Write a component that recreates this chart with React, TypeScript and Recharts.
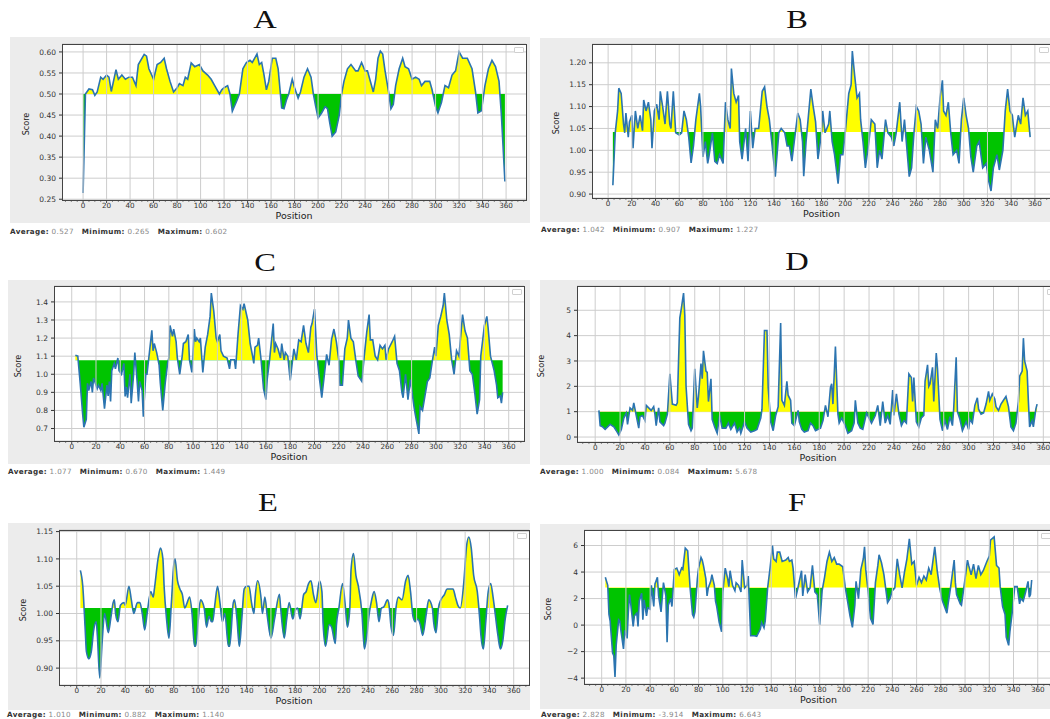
import React from 'react';
import { AreaChart, Area, XAxis, YAxis, CartesianGrid, ReferenceLine } from 'recharts';

// [position, score]
const aProfile: [number, number][] = [
  [0, 0.265], [2, 0.5], [5, 0.512], [8, 0.51], [10, 0.497], [12, 0.505], [15, 0.54], [17, 0.535], [20, 0.545], [22, 0.54],
  [24, 0.506], [28, 0.558], [30, 0.535], [33, 0.545], [36, 0.535], [39, 0.54], [42, 0.54], [45, 0.52], [47, 0.57], [52, 0.594],
  [54, 0.59], [56, 0.56], [60, 0.535], [63, 0.57], [66, 0.575], [69, 0.585], [71, 0.56], [74, 0.53], [77, 0.505], [80, 0.515],
  [82, 0.525], [85, 0.52], [87, 0.54], [89, 0.535], [92, 0.574], [95, 0.565], [99, 0.57], [102, 0.555], [106, 0.545], [109, 0.535],
  [112, 0.52], [116, 0.5], [118, 0.51], [120, 0.515], [123, 0.52], [125, 0.5], [127, 0.459], [131, 0.485], [133, 0.5], [136, 0.56],
  [139, 0.575], [142, 0.58], [144, 0.575], [148, 0.595], [150, 0.57], [152, 0.575], [154, 0.545], [156, 0.51], [158, 0.53], [161, 0.585],
  [164, 0.585], [166, 0.56], [169, 0.467], [171, 0.465], [173, 0.485], [175, 0.5], [178, 0.535], [180, 0.515], [183, 0.49], [185, 0.505],
  [188, 0.54], [191, 0.56], [194, 0.54], [196, 0.5], [198, 0.47], [200, 0.443], [203, 0.455], [206, 0.47], [208, 0.465], [210, 0.43],
  [212, 0.4], [215, 0.41], [218, 0.45], [220, 0.5], [222, 0.53], [225, 0.56], [228, 0.57], [232, 0.555], [234, 0.555], [237, 0.575],
  [240, 0.555], [242, 0.555], [245, 0.525], [247, 0.505], [249, 0.535], [251, 0.585], [253, 0.602], [255, 0.595], [257, 0.555], [260, 0.505],
  [262, 0.465], [264, 0.475], [266, 0.52], [269, 0.56], [272, 0.585], [274, 0.565], [277, 0.56], [280, 0.535], [283, 0.54], [286, 0.535],
  [288, 0.52], [291, 0.53], [295, 0.53], [297, 0.51], [300, 0.47], [302, 0.455], [305, 0.48], [308, 0.52], [311, 0.515], [314, 0.545],
  [317, 0.555], [320, 0.6], [323, 0.585], [327, 0.585], [331, 0.56], [334, 0.505], [336, 0.455], [339, 0.46], [342, 0.52], [345, 0.56],
  [348, 0.58], [351, 0.565], [354, 0.53], [356, 0.45], [359, 0.292],
];

const bProfile: [number, number][] = [
  [4, 0.92], [6, 1.04], [8, 1.09], [9, 1.142], [11, 1.13], [13, 1.06], [14, 1.04], [15, 1.085], [17, 1.03], [18, 1.065],
  [20, 1.08], [21, 1.005], [23, 1.09], [25, 1.05], [27, 1.08], [29, 1.045], [30, 1.115], [32, 1.09], [34, 1.11], [36, 1.07],
  [37, 1.005], [39, 1.09], [41, 1.105], [43, 1.07], [44, 1.135], [46, 1.1], [48, 1.06], [50, 1.135], [52, 1.06], [53, 1.05],
  [55, 1.135], [57, 1.04], [60, 1.035], [62, 1.04], [64, 1.09], [66, 1.07], [68, 1.03], [70, 0.971], [72, 1.01], [74, 1.07],
  [77, 1.13], [78, 1.1], [80, 0.985], [82, 1.02], [84, 0.97], [85, 0.985], [88, 1.04], [90, 0.975], [92, 0.97], [94, 0.99],
  [97, 0.97], [99, 1.11], [101, 1.07], [103, 1.05], [104, 1.187], [106, 1.13], [108, 1.11], [110, 1.125], [111, 1.02], [113, 0.98],
  [116, 1.05], [118, 0.975], [120, 1.09], [122, 1.005], [124, 1.05], [127, 1.05], [130, 1.135], [132, 1.145], [134, 1.1], [136, 1.07],
  [138, 1.02], [141, 0.94], [144, 1.04], [146, 1.05], [149, 1.04], [151, 1.01], [153, 1.01], [155, 0.975], [157, 1.02], [160, 1.085],
  [162, 1.07], [164, 1.02], [165, 0.941], [167, 1.02], [169, 1.08], [171, 1.14], [173, 1.1], [175, 1.065], [177, 0.98], [180, 1.04],
  [181, 1.09], [183, 1.04], [186, 1.06], [187, 1.09], [189, 1.02], [191, 0.99], [194, 0.924], [196, 0.99], [198, 0.99], [200, 1.04],
  [203, 1.13], [205, 1.15], [206, 1.227], [208, 1.17], [210, 1.12], [212, 1.13], [213, 1.07], [215, 1.02], [217, 0.96], [220, 1.02],
  [222, 1.07], [225, 1.06], [227, 0.96], [229, 1.0], [231, 0.98], [234, 1.07], [236, 1.04], [239, 1.03], [241, 1.01], [243, 1.04],
  [246, 1.11], [248, 1.02], [250, 1.07], [254, 0.94], [256, 0.96], [258, 1.04], [260, 1.1], [262, 1.09], [264, 1.06], [266, 0.97],
  [268, 1.03], [271, 1.0], [274, 0.95], [276, 1.07], [278, 1.05], [280, 1.12], [282, 1.16], [283, 1.09], [285, 1.08], [287, 1.11],
  [289, 1.04], [291, 0.99], [294, 1.0], [296, 0.97], [298, 1.07], [300, 1.12], [302, 1.08], [304, 1.05], [306, 0.985], [308, 0.95],
  [311, 1.01], [313, 1.02], [316, 0.96], [319, 0.97], [321, 0.93], [323, 0.907], [325, 0.96], [328, 0.99], [330, 0.955], [333, 1.0],
  [335, 1.09], [337, 1.14], [339, 1.09], [341, 1.08], [343, 1.03], [346, 1.08], [348, 1.06], [350, 1.12], [352, 1.08], [354, 1.09],
  [356, 1.03],
];

const cProfile: [number, number][] = [
  [3, 1.105], [5, 1.1], [7, 0.95], [9, 0.78], [10, 0.707], [12, 0.75], [13, 0.95], [14, 0.91], [16, 0.96], [17, 0.9],
  [18, 0.98], [21, 0.92], [22, 0.94], [24, 0.91], [25, 0.95], [27, 0.81], [29, 0.94], [30, 0.88], [31, 0.96], [32, 0.85],
  [33, 1.02], [35, 1.06], [36, 1.03], [38, 1.09], [39, 1.02], [41, 1.0], [43, 1.06], [44, 0.877], [45, 0.93], [46, 0.87],
  [48, 1.0], [49, 0.84], [51, 1.0], [52, 1.12], [54, 0.95], [55, 0.85], [56, 0.96], [58, 0.91], [59, 0.766], [61, 1.0],
  [62, 1.0], [64, 1.12], [66, 1.243], [67, 1.13], [68, 1.17], [70, 1.12], [72, 1.05], [73, 0.95], [75, 0.8], [77, 0.95],
  [79, 1.06], [80, 1.09], [81, 1.27], [83, 1.21], [84, 1.25], [86, 1.18], [87, 1.09], [89, 1.0], [91, 1.1], [92, 1.17],
  [94, 1.18], [96, 1.22], [97, 1.08], [99, 1.01], [101, 1.25], [102, 1.18], [103, 1.2], [105, 1.18], [106, 1.2], [108, 1.01],
  [110, 1.15], [112, 1.22], [114, 1.32], [115, 1.449], [117, 1.35], [119, 1.2], [120, 1.18], [122, 1.22], [123, 1.13], [125, 1.1],
  [128, 1.09], [130, 1.03], [131, 1.08], [134, 1.08], [135, 1.03], [137, 1.22], [139, 1.38], [141, 1.36], [142, 1.39], [145, 1.3],
  [147, 1.17], [149, 1.1], [150, 1.06], [151, 1.15], [153, 1.16], [154, 1.2], [156, 1.08], [158, 0.92], [160, 0.86], [161, 0.97],
  [163, 1.08], [166, 1.28], [167, 1.12], [168, 1.17], [170, 1.14], [172, 1.09], [173, 1.17], [175, 1.08], [176, 1.12], [178, 1.1],
  [180, 0.966], [183, 1.14], [185, 1.08], [187, 1.19], [189, 1.18], [191, 1.27], [193, 1.17], [195, 1.12], [197, 1.26], [198, 1.28],
  [200, 1.36], [202, 1.1], [204, 0.98], [206, 0.87], [208, 0.99], [210, 1.11], [212, 1.05], [214, 1.19], [216, 1.25], [218, 1.18],
  [220, 1.08], [221, 0.94], [223, 0.94], [225, 1.14], [227, 1.2], [228, 1.3], [230, 1.2], [232, 1.18], [234, 1.08], [236, 0.99],
  [239, 0.96], [241, 1.1], [243, 1.23], [245, 1.33], [246, 1.19], [248, 1.19], [250, 1.1], [252, 1.08], [254, 1.16], [256, 1.14],
  [258, 1.16], [259, 1.08], [261, 1.14], [264, 1.18], [266, 1.21], [268, 1.06], [270, 1.02], [272, 0.9], [273, 0.87], [275, 1.0],
  [277, 0.86], [279, 0.97], [282, 0.82], [283, 0.78], [286, 0.67], [287, 0.82], [289, 0.8], [291, 0.88], [293, 0.96], [295, 0.98],
  [297, 1.07], [299, 1.15], [300, 1.1], [302, 1.27], [304, 1.32], [306, 1.38], [307, 1.449], [309, 1.3], [311, 1.22], [313, 1.08],
  [315, 1.0], [317, 1.13], [319, 1.1], [322, 1.33], [324, 1.24], [326, 1.2], [328, 1.02], [330, 1.0], [332, 0.9], [334, 0.78],
  [336, 0.86], [337, 1.1], [340, 1.27], [342, 1.32], [343, 1.26], [345, 1.1], [348, 1.02], [350, 0.94], [351, 0.87], [353, 0.88],
  [354, 0.84], [355, 0.9],
];

const dProfile: [number, number][] = [
  [3, 1.05], [4, 0.45], [6, 0.4], [8, 0.3], [10, 0.4], [12, 0.5], [15, 0.4], [17, 0.25], [19, 0.084], [21, 0.3],
  [23, 0.75], [25, 0.95], [26, 0.5], [28, 1.15], [30, 1.05], [31, 1.35], [33, 0.85], [35, 0.35], [36, 0.8], [38, 0.85],
  [40, 0.65], [41, 1.25], [43, 1.15], [45, 1.05], [47, 1.2], [48, 0.9], [49, 0.45], [51, 1.15], [52, 0.6], [55, 0.45],
  [56, 0.55], [58, 0.9], [60, 2.49], [62, 1.3], [65, 1.25], [66, 1.35], [68, 4.7], [69, 5.0], [71, 5.678], [72, 4.8],
  [73, 2.0], [75, 0.5], [77, 0.25], [78, 0.35], [80, 2.69], [82, 1.15], [83, 1.6], [85, 2.9], [86, 2.3], [87, 3.4],
  [89, 2.6], [90, 2.55], [91, 1.4], [93, 2.3], [94, 0.7], [96, 0.4], [98, 0.15], [100, 0.85], [102, 0.35], [105, 0.35],
  [107, 0.55], [109, 0.3], [112, 0.55], [114, 0.2], [116, 0.35], [117, 0.15], [120, 0.6], [122, 0.35], [125, 0.2], [128, 0.25],
  [130, 0.3], [133, 0.75], [134, 1.1], [136, 4.2], [138, 4.2], [139, 1.95], [141, 0.6], [143, 0.25], [145, 0.85], [147, 1.2],
  [149, 4.5], [150, 1.45], [152, 1.25], [154, 2.2], [155, 1.65], [157, 1.45], [158, 0.55], [160, 0.45], [163, 1.05], [164, 0.6],
  [166, 0.3], [168, 0.2], [171, 0.25], [173, 0.55], [175, 0.45], [177, 0.25], [181, 0.35], [183, 0.65], [185, 1.25], [187, 0.8],
  [189, 1.95], [190, 2.1], [191, 1.3], [193, 3.57], [195, 0.9], [196, 0.55], [198, 0.75], [201, 0.45], [203, 0.15], [206, 0.25],
  [208, 0.55], [209, 1.45], [211, 0.55], [213, 0.35], [215, 0.3], [218, 0.95], [220, 0.75], [222, 0.55], [225, 0.85], [227, 1.25],
  [229, 0.45], [231, 1.4], [233, 0.55], [235, 0.85], [237, 0.5], [239, 1.85], [240, 0.85], [242, 1.7], [244, 0.9], [246, 0.45],
  [248, 0.65], [250, 0.55], [252, 2.49], [254, 2.35], [255, 1.4], [256, 2.35], [258, 0.6], [260, 0.4], [262, 0.75], [264, 0.85],
  [265, 2.2], [267, 2.85], [268, 2.0], [269, 2.1], [271, 2.75], [272, 1.4], [274, 3.31], [275, 2.7], [277, 0.7], [279, 0.25],
  [281, 0.65], [283, 0.3], [285, 0.8], [287, 0.45], [288, 1.1], [290, 3.15], [291, 1.0], [293, 0.7], [295, 0.25], [298, 0.6],
  [300, 0.3], [301, 0.7], [303, 0.55], [305, 1.25], [307, 1.55], [308, 1.1], [310, 0.9], [312, 0.95], [314, 1.3], [316, 1.8],
  [317, 1.45], [319, 1.7], [321, 1.5], [322, 1.2], [324, 1.05], [326, 1.3], [328, 1.45], [330, 1.6], [332, 1.2], [334, 0.4],
  [336, 0.25], [338, 0.55], [340, 1.4], [341, 2.4], [343, 2.6], [344, 3.9], [345, 3.0], [347, 2.6], [348, 1.4], [349, 0.4],
  [351, 0.65], [352, 0.4], [354, 1.1], [355, 1.3],
];

const eProfile: [number, number][] = [
  [3, 1.079], [5, 1.05], [7, 0.97], [8, 0.93], [10, 0.917], [12, 0.93], [14, 0.97], [16, 0.985], [17, 0.96], [19, 0.882],
  [21, 0.95], [23, 1.0], [24, 0.99], [26, 0.965], [28, 0.99], [30, 1.02], [31, 1.025], [32, 1.0], [34, 0.985], [36, 1.015],
  [39, 1.02], [40, 1.015], [43, 1.05], [45, 1.025], [47, 1.0], [50, 1.02], [52, 1.02], [54, 1.0], [56, 0.97], [58, 1.0],
  [61, 1.04], [63, 1.03], [64, 1.045], [67, 1.1], [69, 1.12], [71, 1.1], [72, 1.05], [74, 0.99], [76, 0.955], [78, 1.02],
  [80, 1.09], [81, 1.1], [83, 1.06], [85, 1.045], [87, 1.035], [89, 1.01], [91, 1.02], [93, 1.03], [95, 1.0], [97, 0.94],
  [98, 0.94], [100, 0.985], [102, 1.025], [105, 1.01], [107, 0.975], [109, 0.995], [111, 0.985], [112, 0.985], [114, 1.02], [116, 1.05],
  [118, 1.02], [120, 0.985], [122, 1.0], [125, 0.94], [126, 0.94], [129, 1.02], [130, 1.025], [132, 0.99], [134, 0.94], [136, 0.99],
  [138, 1.045], [140, 1.05], [142, 1.05], [144, 1.02], [146, 1.0], [147, 1.03], [149, 1.06], [152, 1.025], [153, 1.0], [155, 1.03],
  [157, 0.995], [160, 0.955], [163, 0.99], [167, 1.035], [168, 1.01], [171, 0.955], [173, 0.99], [175, 1.02], [178, 0.99], [180, 1.005],
  [182, 1.01], [184, 0.99], [187, 1.035], [189, 1.04], [191, 1.055], [193, 1.06], [195, 1.035], [197, 1.02], [200, 1.06], [202, 1.04],
  [203, 0.98], [205, 0.94], [208, 0.98], [210, 0.975], [213, 0.945], [214, 0.98], [216, 1.01], [219, 1.055], [221, 1.02], [223, 0.975],
  [225, 1.01], [226, 1.08], [228, 1.11], [230, 1.07], [232, 1.05], [235, 1.0], [237, 0.935], [239, 0.96], [241, 1.0], [243, 1.025],
  [245, 1.04], [247, 1.02], [249, 0.985], [251, 1.01], [253, 1.012], [256, 1.025], [257, 1.02], [259, 0.975], [261, 0.96], [263, 1.01],
  [265, 1.03], [268, 1.025], [271, 1.06], [273, 1.07], [275, 1.04], [277, 0.995], [279, 0.985], [281, 0.99], [283, 0.98], [285, 0.96],
  [288, 1.0], [290, 1.025], [293, 1.01], [294, 0.985], [296, 0.965], [298, 1.01], [300, 1.025], [303, 1.035], [305, 1.045], [308, 1.045],
  [310, 1.045], [312, 1.03], [314, 1.015], [316, 1.01], [319, 1.06], [321, 1.12], [323, 1.14], [325, 1.12], [327, 1.07], [330, 1.04],
  [332, 0.99], [333, 0.96], [335, 0.935], [337, 0.985], [339, 1.04], [341, 1.055], [343, 1.03], [345, 0.995], [347, 0.96], [349, 0.935],
  [351, 0.95], [353, 0.99], [355, 1.015],
];

const fProfile: [number, number][] = [
  [3, 3.61], [5, 3.0], [6, 0.8], [7, 0.3], [9, -2.1], [10, -2.3], [11, -3.914], [12, -1.5], [14, 0.4], [15, 0.3],
  [16, -0.5], [18, -1.8], [19, -0.4], [21, -1.0], [22, 1.0], [23, 2.3], [24, 1.6], [26, -0.1], [27, 0.7], [29, 0.9],
  [30, -0.1], [31, 1.8], [33, 2.4], [34, 0.4], [35, 1.9], [37, 0.7], [38, 1.3], [40, 1.2], [41, 3.0], [43, 1.4],
  [44, 3.1], [46, 3.6], [47, 2.2], [49, 1.0], [51, 3.2], [53, 2.2], [54, -1.3], [55, 1.5], [57, 2.0], [58, 1.4],
  [60, 4.2], [62, 4.3], [64, 3.8], [66, 4.3], [67, 4.2], [69, 5.8], [71, 5.6], [72, 4.2], [73, 2.8], [75, 0.8],
  [76, 0.6], [77, 1.0], [79, 3.5], [80, 4.3], [82, 5.1], [83, 4.9], [84, 4.5], [86, 3.5], [87, 2.2], [88, 2.8],
  [90, 3.3], [91, 3.8], [93, 3.0], [94, 1.8], [95, 1.4], [97, 0.2], [99, -0.5], [100, 2.5], [102, 4.3], [104, 3.5],
  [105, 2.9], [106, 4.1], [108, 3.0], [110, 2.6], [111, 3.2], [113, 3.0], [115, 2.5], [116, 4.9], [118, 2.8], [120, 3.0],
  [121, 3.7], [123, -0.8], [126, -0.8], [128, -0.85], [131, -0.3], [132, 0.2], [134, -0.2], [135, 0.3], [137, 2.8], [139, 4.3],
  [141, 6.0], [142, 5.0], [144, 4.8], [145, 5.5], [147, 5.5], [149, 4.8], [152, 4.9], [154, 5.1], [155, 4.8], [157, 4.9],
  [158, 4.3], [160, 2.0], [162, 2.8], [165, 4.1], [166, 2.2], [168, 3.8], [170, 2.5], [172, 2.8], [174, 4.5], [176, 2.5],
  [178, 2.3], [180, 0.03], [182, 2.6], [184, 3.6], [186, 4.8], [188, 5.5], [190, 4.8], [192, 5.1], [194, 4.6], [196, 4.6],
  [199, 4.4], [201, 2.9], [203, 1.8], [205, 0.7], [207, -0.17], [209, 1.5], [210, 3.3], [212, 2.0], [214, 4.2], [216, 5.0],
  [217, 5.9], [218, 4.2], [220, 2.5], [222, 0.5], [224, 0.05], [226, 3.2], [228, 4.5], [229, 5.3], [231, 4.7], [233, 3.8],
  [236, 1.7], [238, 2.0], [240, 2.6], [242, 2.8], [244, 5.0], [246, 3.8], [248, 2.8], [250, 4.0], [252, 5.0], [254, 6.5],
  [256, 4.6], [258, 4.8], [260, 3.0], [262, 3.6], [264, 3.2], [266, 3.7], [268, 3.4], [270, 4.3], [272, 3.8], [275, 5.9],
  [277, 4.1], [279, 2.8], [281, 1.9], [283, 1.4], [285, 0.9], [286, 1.6], [288, 2.8], [291, 4.9], [292, 3.2], [293, 2.3],
  [296, 1.6], [297, 1.5], [299, 2.8], [302, 4.9], [303, 4.5], [305, 3.8], [307, 4.6], [309, 3.5], [311, 4.5], [313, 3.8],
  [315, 4.1], [318, 4.8], [320, 5.2], [321, 6.4], [324, 6.643], [326, 4.5], [328, 4.3], [329, 2.9], [331, 1.4], [333, 0.8],
  [334, -0.9], [336, -1.53], [337, -0.5], [339, 1.0], [341, 2.9], [343, 2.9], [345, 1.6], [346, 2.0], [348, 1.8], [350, 2.5],
  [352, 3.3], [353, 2.1], [354, 2.3], [355, 3.4],
];

const aTicks = [0.25, 0.3, 0.35, 0.4, 0.45, 0.5, 0.55, 0.6];
const bTicks = [0.9, 0.95, 1.0, 1.05, 1.1, 1.15, 1.2];
const cTicks = [0.7, 0.8, 0.9, 1.0, 1.1, 1.2, 1.3, 1.4];
const dTicks = [0, 1, 2, 3, 4, 5];
const eTicks = [0.9, 0.95, 1.0, 1.05, 1.1, 1.15];
const fTicks = [-4, -2, 0, 2, 4, 6];
const positionTicks = [0, 20, 40, 60, 80, 100, 120, 140, 160, 180, 200, 220, 240, 260, 280, 300, 320, 340, 360];

// Average / Minimum / Maximum as printed under each panel
const aStats = ['0.527', '0.265', '0.602'];
const bStats = ['1.042', '0.907', '1.227'];
const cStats = ['1.077', '0.670', '1.449'];
const dStats = ['1.000', '0.084', '5.678'];
const eStats = ['1.010', '0.882', '1.140'];
const fStats = ['2.828', '-3.914', '6.643'];

const SANS = '"DejaVu Sans", sans-serif';
const LINE = '#2b74b0';
const YELLOW = '#ffff00';
const GREEN = '#00c400';

type Rect = { x: number; y: number; w: number; h: number };

function pad(lo: number, hi: number): [number, number] {
  const r = hi - lo;
  return [lo - r * 0.05, hi + r * 0.05];
}

const XTick = (props: any) => {
  const { x, y, payload } = props;
  const v = payload.value;
  const major = v % 20 === 0 && v >= 0 && v <= 360;
  return (
    <g>
      <line x1={x} x2={x} y1={y} y2={y + (major ? 3 : 1.8)} stroke="#333" strokeWidth={major ? 0.9 : 0.7} />
      {major && (
        <text x={x} y={y + 3} dy="0.71em" textAnchor="middle" fontSize={7.2} fill="#333" fontFamily={SANS}>
          {v}
        </text>
      )}
    </g>
  );
};

type PanelProps = {
  id: string;
  title: string;
  profile: [number, number][];
  base: number;
  yTicks: number[];
  digits: number;
  stats: string[];
  box: Rect;
  plot: Rect;
  titleAt: [number, number];
  statsAt: [number, number];
  smooth?: boolean;
};

function Panel({ id, title, profile, base, yTicks, digits, stats, box, plot, titleAt, statsAt, smooth }: PanelProps) {
  const data = profile.map(([x, y]) => ({ x, y }));
  const xs = profile.map((p) => p[0]);
  const ys = profile.map((p) => p[1]);
  const xDom = pad(Math.min(...xs), Math.max(...xs));
  const yLo = Math.min(...ys);
  const yHi = Math.max(...ys);
  const yDom = pad(yLo, yHi);
  const top = Math.max(yHi, base);
  const bot = Math.min(yLo, base);
  const off = (top - base) / (top - bot);

  const minor: number[] = [];
  for (let t = Math.ceil(xDom[0] / 5) * 5; t <= xDom[1]; t += 5) minor.push(t);
  const major = positionTicks.filter((t) => t >= xDom[0] && t <= xDom[1]);

  const fmt = (v: number) => (digits > 0 ? v.toFixed(digits) : String(v).replace('-', '\u2212'));
  const yAxisW = 40;
  const padTop = 8;

  return (
    <>
      <div style={{ position: 'absolute', left: box.x, top: box.y, width: box.w, height: box.h, background: '#ececec' }} />
      <div style={{ position: 'absolute', left: plot.x, top: plot.y, width: plot.w, height: plot.h, background: '#fff' }} />
      <div
        style={{
          position: 'absolute', left: titleAt[0], top: titleAt[1], transform: 'translate(-50%, -50%) scaleX(1.25)',
          fontFamily: '"Liberation Serif", serif', fontSize: 26, color: '#111', lineHeight: 1,
        }}
      >
        {title}
      </div>
      <div style={{ position: 'absolute', left: plot.x - yAxisW, top: plot.y - padTop }}>
        <AreaChart
          width={plot.w + yAxisW}
          height={plot.h + 30 + padTop}
          data={data}
          margin={{ top: padTop, right: 0, bottom: 0, left: 0 }}
        >
          <defs>
            <linearGradient id={`split-${id}`} x1="0" y1="0" x2="0" y2="1">
              <stop offset={off} stopColor={YELLOW} />
              <stop offset={off} stopColor={GREEN} />
            </linearGradient>
          </defs>
          <CartesianGrid vertical={false} stroke="#cdcdcd" strokeWidth={1} />
          {major.map((t) => (
            <ReferenceLine key={t} x={t} stroke="#cdcdcd" strokeWidth={1} />
          ))}
          <XAxis
            dataKey="x"
            type="number"
            domain={xDom}
            ticks={minor}
            tick={<XTick />}
            tickLine={false}
            axisLine={false}
            tickSize={0}
            tickMargin={0}
            interval={0}
            height={30}
            allowDataOverflow
          />
          <YAxis
            type="number"
            domain={yDom}
            ticks={yTicks}
            tickFormatter={fmt}
            tick={{ fontSize: 7.5, fill: '#333', fontFamily: SANS }}
            tickLine={{ stroke: '#333' }}
            tickSize={3}
            tickMargin={3}
            axisLine={false}
            interval={0}
            width={yAxisW}
            allowDataOverflow
          />
          <Area
            dataKey="y"
            type={smooth ? 'monotone' : 'linear'}
            baseValue={base}
            stroke={LINE}
            strokeWidth={1.6}
            fill={`url(#split-${id})`}
            fillOpacity={1}
            dot={false}
            activeDot={false}
            isAnimationActive={false}
          />
        </AreaChart>
      </div>
      <div
        style={{
          position: 'absolute', left: plot.x, top: plot.y, width: plot.w + 1, height: plot.h + 1,
          border: '1px solid #444', boxSizing: 'border-box', pointerEvents: 'none',
        }}
      />
      <div
        style={{
          position: 'absolute', left: plot.x + plot.w - 12, top: plot.y + 3, width: 8, height: 4,
          border: '1px solid #d0d0d0', borderRadius: 1, background: '#fff',
        }}
      />
      <div
        style={{
          position: 'absolute', left: plot.x - 36, top: plot.y + plot.h / 2 + 2,
          transform: 'translate(-50%, -50%) rotate(-90deg)', fontFamily: '"DejaVu Sans Condensed", "DejaVu Sans", sans-serif',
          fontSize: 9, color: '#222', whiteSpace: 'nowrap',
        }}
      >
        Score
      </div>
      <div
        style={{
          position: 'absolute', left: plot.x + plot.w / 2, top: plot.y + plot.h + 15.5,
          transform: 'translate(-50%, -50%)', fontFamily: SANS, fontSize: 9.5, color: '#222', whiteSpace: 'nowrap',
          lineHeight: 1,
        }}
      >
        Position
      </div>
      <div
        style={{
          position: 'absolute', left: statsAt[0], top: statsAt[1], transform: 'translateY(-50%)',
          fontFamily: SANS, fontSize: 7.2, letterSpacing: 0.35, color: '#888', whiteSpace: 'pre', lineHeight: 1,
        }}
      >
        <b style={{ color: '#333' }}>Average:</b> {stats[0]}{'   '}
        <b style={{ color: '#333' }}>Minimum:</b> {stats[1]}{'   '}
        <b style={{ color: '#333' }}>Maximum:</b> {stats[2]}
      </div>
    </>
  );
}

export default function App() {
  return (
    <div
      style={{
        position: 'absolute', left: 0, top: 0, width: 1050, height: 719, overflow: 'hidden',
        background: '#fff', fontFamily: SANS,
      }}
    >
      <Panel id="a" title="A" profile={aProfile} base={0.5} yTicks={aTicks} digits={2} stats={aStats}
        box={{ x: 10, y: 37, w: 520, h: 186 }} plot={{ x: 62, y: 44, w: 464, h: 156 }} titleAt={[265, 20]} statsAt={[10, 232]} />
      <Panel id="b" title="B" profile={bProfile} base={1.042} yTicks={bTicks} digits={2} stats={bStats}
        box={{ x: 540, y: 38, w: 510, h: 184 }} plot={{ x: 592, y: 44, w: 459, h: 154 }} titleAt={[797, 20]} statsAt={[541, 230]} />
      <Panel id="c" title="C" profile={cProfile} base={1.077} yTicks={cTicks} digits={1} stats={cStats}
        box={{ x: 8, y: 280, w: 522, h: 184 }} plot={{ x: 54, y: 286, w: 470, h: 155 }} titleAt={[265, 263]} statsAt={[8, 472]} />
      <Panel id="d" title="D" profile={dProfile} base={1.0} yTicks={dTicks} digits={0} stats={dStats}
        box={{ x: 540, y: 280, w: 510, h: 185 }} plot={{ x: 577, y: 286, w: 482, h: 156 }} titleAt={[797, 262]} statsAt={[540, 472]} />
      <Panel id="e" title="E" profile={eProfile} base={1.01} yTicks={eTicks} digits={2} stats={eStats}
        box={{ x: 8, y: 523, w: 522, h: 187 }} plot={{ x: 59, y: 530, w: 470, h: 155 }} titleAt={[268, 503]} statsAt={[7, 715]} smooth />
      <Panel id="f" title="F" profile={fProfile} base={2.828} yTicks={fTicks} digits={0} stats={fStats}
        box={{ x: 540, y: 524, w: 510, h: 185 }} plot={{ x: 584, y: 530, w: 469, h: 154 }} titleAt={[797, 503]} statsAt={[541, 715]} />
    </div>
  );
}
